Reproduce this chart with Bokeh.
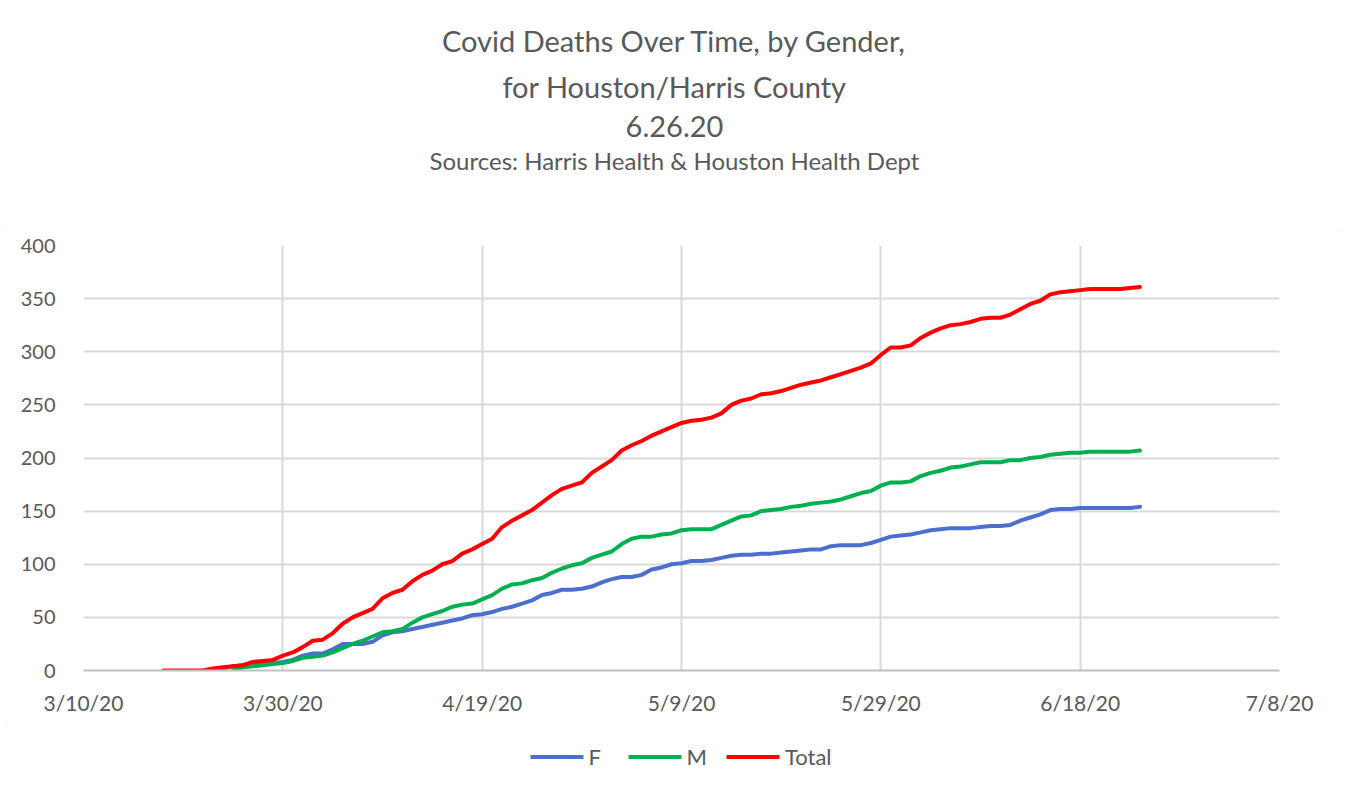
import pandas as pd
from bokeh.plotting import figure
from bokeh.layouts import column
from bokeh.models import (Range1d, FixedTicker, Legend, LegendItem, Label)
from bokeh.embed import file_html
from bokeh.resources import INLINE

# ---------------- data ----------------
total_start = "2020-03-18"
total_vals = [0, 0, 0, 0, 0, 2, 3, 4, 5, 8, 9, 10, 14, 17, 22, 28, 29, 35, 44, 50,
              54, 58, 68, 73, 76, 84, 90, 94, 100, 103, 110, 114, 119, 124, 135, 141, 146, 151, 158, 165,
              171, 174, 177, 186, 192, 198, 207, 212, 216, 221, 225, 229, 233, 235, 236, 238, 242, 250, 254, 256,
              260, 261, 263, 266, 269, 271, 273, 276, 279, 282, 285, 289, 297, 304, 304, 306, 313, 318, 322, 325,
              326, 328, 331, 332, 332, 335, 340, 345, 348, 354, 356, 357, 358, 359, 359, 359, 359, 360, 361]

f_start = "2020-03-23"
f_vals = [1, 2, 4, 5, 6, 6, 7, 8, 10, 14, 16, 16, 20, 25, 25, 25, 27, 33, 36, 37,
          39, 41, 43, 45, 47, 49, 52, 53, 55, 58, 60, 63, 66, 71, 73, 76, 76, 77, 79, 83,
          86, 88, 88, 90, 95, 97, 100, 101, 103, 103, 104, 106, 108, 109, 109, 110, 110, 111, 112, 113,
          114, 114, 117, 118, 118, 118, 120, 123, 126, 127, 128, 130, 132, 133, 134, 134, 134, 135, 136, 136,
          137, 141, 144, 147, 151, 152, 152, 153, 153, 153, 153, 153, 153, 154]

m_start = "2020-03-25"
m_vals = [0, 3, 4, 5, 6, 7, 9, 12, 13, 14, 17, 21, 25, 28, 32, 36, 37, 39, 45, 50,
          53, 56, 60, 62, 63, 67, 71, 77, 81, 82, 85, 87, 92, 96, 99, 101, 106, 109, 112, 119,
          124, 126, 126, 128, 129, 132, 133, 133, 133, 137, 141, 145, 146, 150, 151, 152, 154, 155, 157, 158,
          159, 161, 164, 167, 169, 174, 177, 177, 178, 183, 186, 188, 191, 192, 194, 196, 196, 196, 198, 198,
          200, 201, 203, 204, 205, 205, 206, 206, 206, 206, 206, 207]

x_tick_dates = ["2020-03-10", "2020-03-30", "2020-04-19", "2020-05-09",
                "2020-05-29", "2020-06-18", "2020-07-08"]
x_tick_labels = ["3/10/20", "3/30/20", "4/19/20", "5/9/20", "5/29/20", "6/18/20", "7/8/20"]
y_ticks = [0, 50, 100, 150, 200, 250, 300, 350, 400]

title_lines = ["Covid Deaths Over Time, by Gender,", "for Houston/Harris County", "6.26.20"]
subtitle = "Sources: Harris Health & Houston Health Dept"

series_names = ["F", "M", "Total"]
series_colors = ["#4D6ECF", "#00B050", "#FF0000"]

# ---------------- build ----------------
def dates_for(start, n):
    return pd.date_range(start, periods=n, freq="D")

x_total = dates_for(total_start, len(total_vals))
x_f = dates_for(f_start, len(f_vals))
x_m = dates_for(m_start, len(m_vals))

tick_ms = [float(pd.Timestamp(d).value // 10**6) for d in x_tick_dates]

FONT = "Lato"
GREY = "#595959"
W = 1345
HEAD_H = 230
LEG_H = 62
LEFT = 83
CX = 674 - LEFT   # title centre, relative to the (column-aligned) frame


def blank(fig):
    fig.axis.visible = False
    fig.grid.visible = False
    fig.outline_line_color = None
    fig.border_fill_color = "white"
    fig.background_fill_color = "white"


# ---- header with the title block ----
head = figure(width=W, height=HEAD_H, output_backend="svg", toolbar_location=None,
              x_range=Range1d(0, 1), y_range=Range1d(0, 1),
              min_border_left=0, min_border_right=0, min_border_top=0, min_border_bottom=0)
blank(head)
title_y = [HEAD_H - 40, HEAD_H - 86, HEAD_H - 126]
for txt, yy in zip(title_lines, title_y):
    head.add_layout(Label(x=CX, y=yy, x_units="screen", y_units="screen", text=txt,
                          text_font=FONT, text_font_size="29px", text_color=GREY,
                          text_align="center", text_baseline="middle"))
head.add_layout(Label(x=CX, y=HEAD_H - 160, x_units="screen", y_units="screen", text=subtitle,
                      text_font=FONT, text_font_size="24px", text_color=GREY,
                      text_align="center", text_baseline="middle"))

# ---- main chart ----
p = figure(width=W, height=15 + 425 + 55, output_backend="svg", toolbar_location=None,
           x_axis_type="datetime",
           x_range=Range1d(tick_ms[0], tick_ms[-1]),
           y_range=Range1d(y_ticks[0], y_ticks[-1]),
           min_border_left=LEFT, min_border_right=66, min_border_top=15, min_border_bottom=55)
p.outline_line_color = None
p.background_fill_color = "white"
p.border_fill_color = "white"

p.xaxis.ticker = FixedTicker(ticks=tick_ms)
p.xaxis.major_label_overrides = {t: lab for t, lab in zip(tick_ms, x_tick_labels)}
p.yaxis.ticker = FixedTicker(ticks=y_ticks)

for ax in (p.xaxis, p.yaxis):
    ax.major_tick_line_color = None
    ax.minor_tick_line_color = None
    ax.major_label_text_font = FONT
    ax.major_label_text_color = GREY
p.yaxis.major_label_text_font_size = "20px"
p.xaxis.major_label_text_font_size = "21px"
p.yaxis.axis_line_color = None
p.yaxis.major_label_standoff = 22
p.xaxis.axis_line_color = "#BFBFBF"
p.xaxis.axis_line_width = 2
p.xaxis.major_label_standoff = 13

p.xgrid.grid_line_color = "#D9D9D9"
p.ygrid.grid_line_color = "#D9D9D9"
p.xgrid.grid_line_width = 2
p.ygrid.grid_line_width = 2

p.line(x_f, f_vals, line_color=series_colors[0], line_width=4, line_join="round", line_cap="round")
p.line(x_m, m_vals, line_color=series_colors[1], line_width=4, line_join="round", line_cap="round")
p.line(x_total, total_vals, line_color=series_colors[2], line_width=4, line_join="round", line_cap="round")

# ---- legend strip ----
leg = figure(width=W, height=LEG_H, output_backend="svg", toolbar_location=None,
             x_range=Range1d(0, 1), y_range=Range1d(0, 1),
             min_border_left=0, min_border_right=0, min_border_top=0, min_border_bottom=0)
blank(leg)
items = []
nan = float("nan")
for name, col in zip(series_names, series_colors):
    # a single NaN point: nothing is drawn in the strip, only the legend swatch
    r = leg.line([nan], [nan], line_color=col, line_width=4, line_cap="round")
    items.append(LegendItem(label=name, renderers=[r]))
legend = Legend(items=items, orientation="horizontal", location="center",
                border_line_color=None, background_fill_alpha=0,
                label_text_font=FONT, label_text_font_size="22px", label_text_color=GREY,
                glyph_width=53, glyph_height=20, label_standoff=5, spacing=20,
                padding=0, margin=0)
leg.add_layout(legend)

layout = column(head, p, leg, spacing=0)
layout.styles = {"outline": "1px solid #D9D9D9", "outline-offset": "-7px"}
open("out.html", "w").write(file_html(layout, INLINE))
